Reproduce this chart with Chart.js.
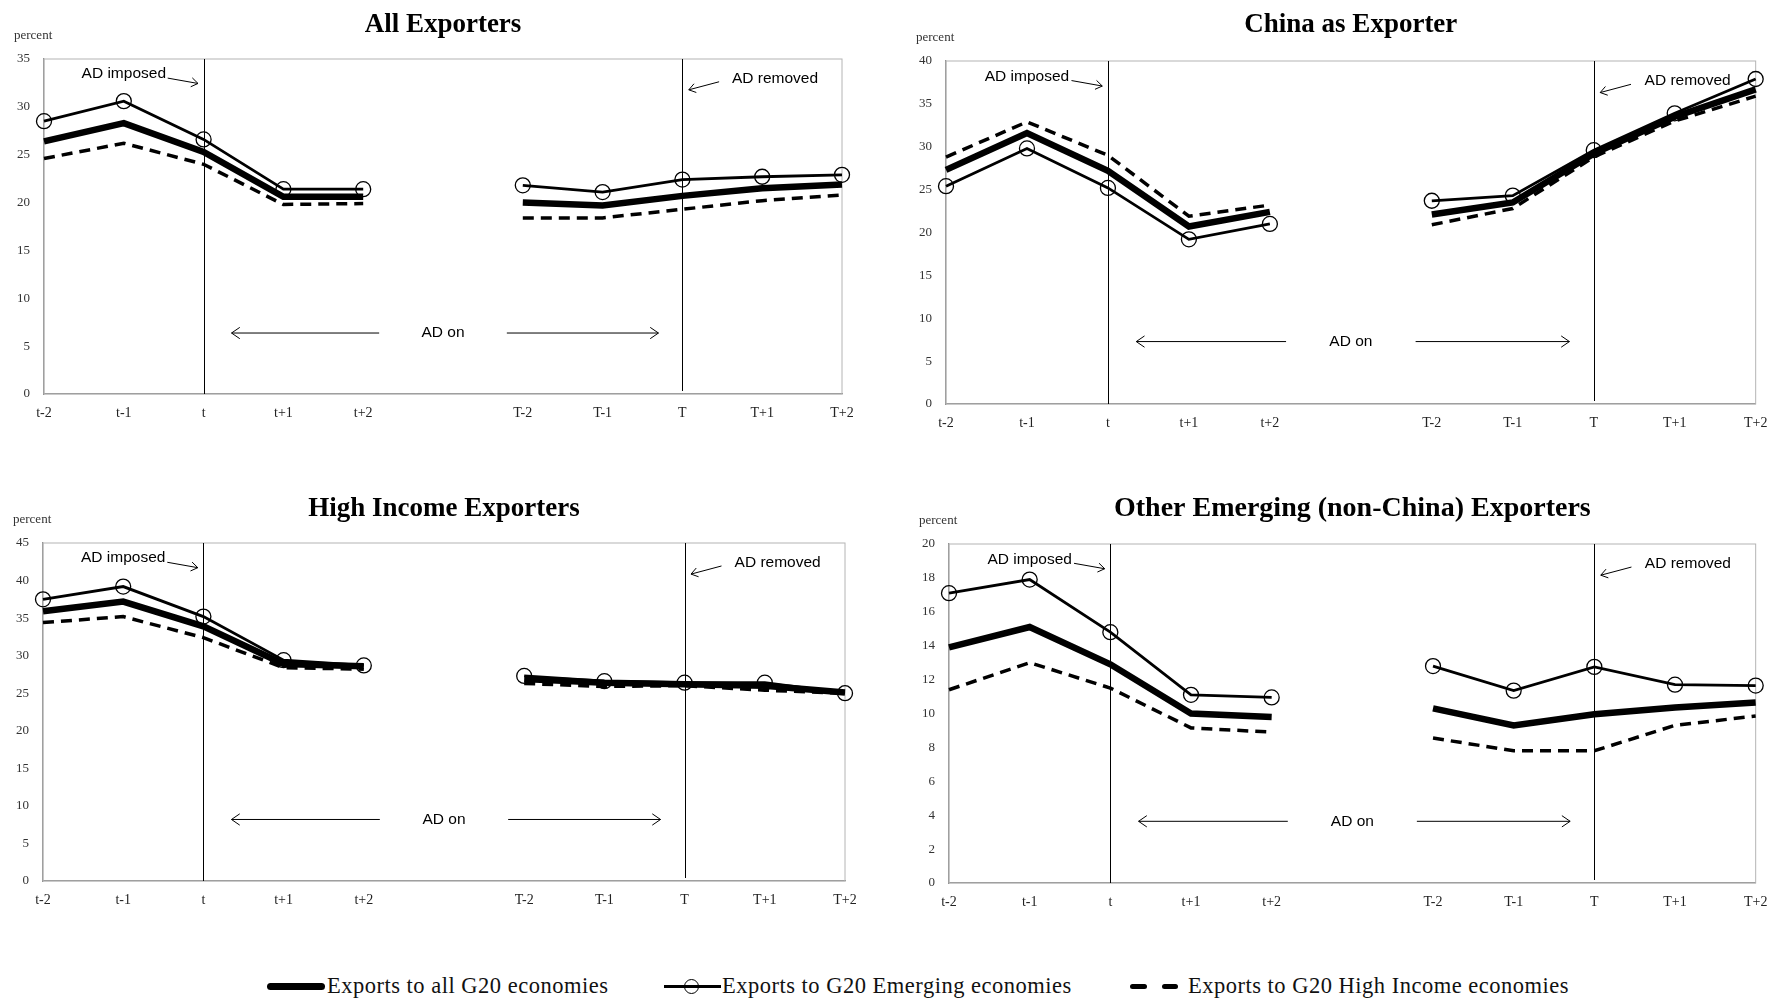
<!DOCTYPE html>
<html>
<head>
<meta charset="utf-8">
<title>Exports before, during and after AD</title>
<script src="https://cdn.jsdelivr.net/npm/chart.js@4.4.1/dist/chart.umd.min.js"></script>
<style>
  body { margin: 0; width: 1778px; height: 999px; background: #fff; position: relative; overflow: hidden; }
  canvas { position: absolute; }
  .leg { position: absolute; top: 973px; line-height: 26px; font-family: 'Liberation Serif', 'Times New Roman', serif; font-size: 22.5px; letter-spacing: 0.5px; color: #111; white-space: nowrap; }
  .sym { position: absolute; background: #000; }
  .circ { position: absolute; box-sizing: border-box; width: 15px; height: 15px; border: 1.5px solid #000; border-radius: 50%; }
</style>
</head>
<body>
<canvas id="chart1" width="872" height="440" style="left:0px;top:0px"></canvas>
<canvas id="chart2" width="889" height="450" style="left:889px;top:0px"></canvas>
<canvas id="chart3" width="870" height="447" style="left:0px;top:480px"></canvas>
<canvas id="chart4" width="889" height="449" style="left:889px;top:480px"></canvas>

<div class="sym" style="left:267px;top:983px;width:58px;height:7px;border-radius:3.5px"></div>
<div class="leg" style="left:327px">Exports to all G20 economies</div>
<div class="sym" style="left:664px;top:985px;width:57px;height:3px"></div>
<div class="circ" style="left:684px;top:979px"></div>
<div class="leg" style="left:722px">Exports to G20 Emerging economies</div>
<div class="sym" style="left:1130px;top:984px;width:17px;height:5px;border-radius:2.5px"></div>
<div class="sym" style="left:1162px;top:984px;width:16px;height:5px;border-radius:2.5px"></div>
<div class="leg" style="left:1188px">Exports to G20 High Income economies</div>

<script>
const labels = ['t-2', 't-1', 't', 't+1', 't+2', '', 'T-2', 'T-1', 'T', 'T+1', 'T+2'];
const seriesNames = ['Exports to all G20 economies', 'Exports to G20 Emerging economies', 'Exports to G20 High Income economies'];
const chartTitles = ['All Exporters', 'China as Exporter', 'High Income Exporters', 'Other Emerging (non-China) Exporters'];
const yMaxes = [35, 40, 45, 20];
const ySteps = [5, 5, 5, 2];

// All Exporters
const allToG20 = [26.4, 28.3, 25.3, 20.6, 20.6, null, 20.0, 19.7, 20.7, 21.5, 21.9];
const allToEmerging = [28.5, 30.6, 26.6, 21.4, 21.4, null, 21.8, 21.1, 22.4, 22.7, 22.9];
const allToHighIncome = [24.6, 26.2, 24.0, 19.8, 19.9, null, 18.4, 18.4, 19.3, 20.2, 20.8];

// China as Exporter
const chinaToG20 = [27.3, 31.6, 27.2, 20.7, 22.4, null, 22.1, 23.5, 29.2, 33.5, 36.7];
const chinaToEmerging = [25.4, 29.8, 25.2, 19.2, 21.0, null, 23.7, 24.3, 29.6, 33.9, 37.9];
const chinaToHighIncome = [28.8, 32.9, 29.0, 21.9, 23.2, null, 20.9, 22.8, 28.8, 33.0, 35.9];

// High Income Exporters
const highToG20 = [35.9, 37.2, 33.9, 28.9, 28.6, null, 26.9, 26.4, 26.2, 26.0, 25.1];
const highToEmerging = [37.5, 39.2, 35.2, 29.4, 28.7, null, 27.3, 26.6, 26.4, 26.4, 25.0];
const highToHighIncome = [34.4, 35.2, 32.4, 28.4, 28.2, null, 26.3, 25.9, 26.0, 25.4, 25.0];

// Other Emerging (non-China) Exporters
const otherToG20 = [13.9, 15.1, 12.9, 10.0, 9.8, null, 10.3, 9.3, 9.95, 10.35, 10.65];
const otherToEmerging = [17.1, 17.9, 14.8, 11.1, 10.95, null, 12.8, 11.35, 12.75, 11.7, 11.65];
const otherToHighIncome = [11.4, 13.0, 11.5, 9.15, 8.9, null, 8.55, 7.8, 7.8, 9.3, 9.85];

const serif = "'Liberation Serif', 'Times New Roman', serif";
const sans = "'Liberation Sans', Arial, sans-serif";

function arrow(ctx, x1, y1, x2, y2, head) {
  const a = Math.atan2(y2 - y1, x2 - x1);
  ctx.beginPath();
  ctx.moveTo(x1, y1);
  ctx.lineTo(x2, y2);
  ctx.moveTo(x2 - head * Math.cos(a - 0.6), y2 - head * Math.sin(a - 0.6));
  ctx.lineTo(x2, y2);
  ctx.lineTo(x2 - head * Math.cos(a + 0.6), y2 - head * Math.sin(a + 0.6));
  ctx.stroke();
}

const adMarks = {
  id: 'adMarks',
  beforeDatasetsDraw(chart) {
    const {ctx, chartArea: area} = chart;
    const xs = chart.scales.x;
    ctx.save();
    ctx.strokeStyle = '#b4b4b4';
    ctx.lineWidth = 1;
    ctx.strokeRect(area.left, area.top, area.right - area.left, area.bottom - area.top);
    ctx.strokeStyle = '#000';
    ctx.beginPath();
    const xt = Math.round(xs.getPixelForValue(2)) + 0.5;
    const xT = Math.round(xs.getPixelForValue(8)) + 0.5;
    ctx.moveTo(xt, area.top);
    ctx.lineTo(xt, area.bottom);
    ctx.moveTo(xT, area.top);
    ctx.lineTo(xT, area.bottom - 3);
    ctx.stroke();
    ctx.restore();
  },
  afterDatasetsDraw(chart) {
    const {ctx, chartArea: area} = chart;
    const xs = chart.scales.x;
    const h = area.bottom - area.top;
    const px = (i) => xs.getPixelForValue(i);
    const py = (f) => area.top + f * h;
    ctx.save();
    ctx.fillStyle = '#000';
    ctx.strokeStyle = '#000';
    ctx.lineWidth = 1;
    ctx.font = `15.5px ${sans}`;
    ctx.textAlign = 'center';
    ctx.textBaseline = 'middle';
    ctx.fillText('AD imposed', px(1.0), py(0.045));
    arrow(ctx, px(1.55), py(0.057), px(1.93), py(0.073), 8);
    ctx.fillText('AD removed', px(9.16), py(0.058));
    arrow(ctx, px(8.46), py(0.068), px(8.08), py(0.092), 8);
    ctx.fillText('AD on', px(5), py(0.818));
    arrow(ctx, px(4.2), py(0.818), px(2.35), py(0.818), 10);
    arrow(ctx, px(5.8), py(0.818), px(7.7), py(0.818), 10);
    // "percent" unit label
    ctx.font = `13px ${serif}`;
    ctx.fillStyle = '#333';
    ctx.textAlign = 'left';
    ctx.fillText('percent', area.left - 30, area.top - 23);
    ctx.restore();
  }
};

function makeChart(id, title, yMax, yStep, g20, emerging, highIncome, box) {
  const ctx = document.getElementById(id);
  return new Chart(ctx, {
    type: 'line',
    data: {
      labels: labels,
      datasets: [
        {
          label: seriesNames[0],
          data: g20,
          borderColor: '#000',
          borderWidth: 6.5,
          pointRadius: 0,
          borderJoinStyle: 'miter',
          clip: false
        },
        {
          label: seriesNames[1],
          data: emerging,
          borderColor: '#000',
          borderWidth: 2.8,
          pointStyle: 'circle',
          pointRadius: 7.5,
          pointBorderWidth: 1.3,
          pointBorderColor: '#000',
          pointBackgroundColor: 'rgba(0,0,0,0)',
          clip: false
        },
        {
          label: seriesNames[2],
          data: highIncome,
          borderColor: '#000',
          borderWidth: 3.5,
          borderDash: [11, 7],
          pointRadius: 0,
          clip: false
        }
      ]
    },
    options: {
      responsive: false,
      animation: false,
      events: [],
      layout: { padding: { left: 0, right: box.padR, top: 0, bottom: 0 } },
      elements: { line: { tension: 0 } },
      plugins: {
        legend: { display: false },
        tooltip: { enabled: false },
        title: {
          display: true,
          fullSize: false,
          text: title,
          color: '#000',
          font: { family: serif, size: box.titleSize, weight: 'bold' },
          padding: { top: box.titleTop, bottom: box.titleBottom }
        }
      },
      scales: {
        x: {
          offset: false,
          grid: { display: false, drawTicks: false },
          border: { display: true, color: '#8a8a8a', width: 1.3 },
          ticks: { autoSkip: false, maxRotation: 0, padding: 10.6, color: '#222', font: { family: serif, size: 14 } },
          afterFit(scale) { scale.height = 46; }
        },
        y: {
          min: 0,
          max: yMax,
          grid: { display: false, drawTicks: false },
          border: { display: true, color: '#8a8a8a', width: 1.3 },
          ticks: { stepSize: yStep, padding: 14, color: '#333', font: { family: serif, size: 13 } },
          afterFit(scale) { scale.width = box.yWidth; }
        }
      }
    },
    plugins: [adMarks]
  });
}

makeChart('chart1', chartTitles[0], yMaxes[0], ySteps[0], allToG20, allToEmerging, allToHighIncome,
  { padR: 30, yWidth: 44, titleSize: 27, titleTop: 8.8, titleBottom: 17.8 });
makeChart('chart2', chartTitles[1], yMaxes[1], ySteps[1], chinaToG20, chinaToEmerging, chinaToHighIncome,
  { padR: 16, yWidth: 57, titleSize: 27, titleTop: 8.8, titleBottom: 19.8 });
makeChart('chart3', chartTitles[2], yMaxes[2], ySteps[2], highToG20, highToEmerging, highToHighIncome,
  { padR: 25, yWidth: 43, titleSize: 27, titleTop: 12.8, titleBottom: 17.8 });
makeChart('chart4', chartTitles[3], yMaxes[3], ySteps[3], otherToG20, otherToEmerging, otherToHighIncome,
  { padR: 20, yWidth: 60, titleSize: 28, titleTop: 12.2, titleBottom: 18.2 });
</script>
</body>
</html>
